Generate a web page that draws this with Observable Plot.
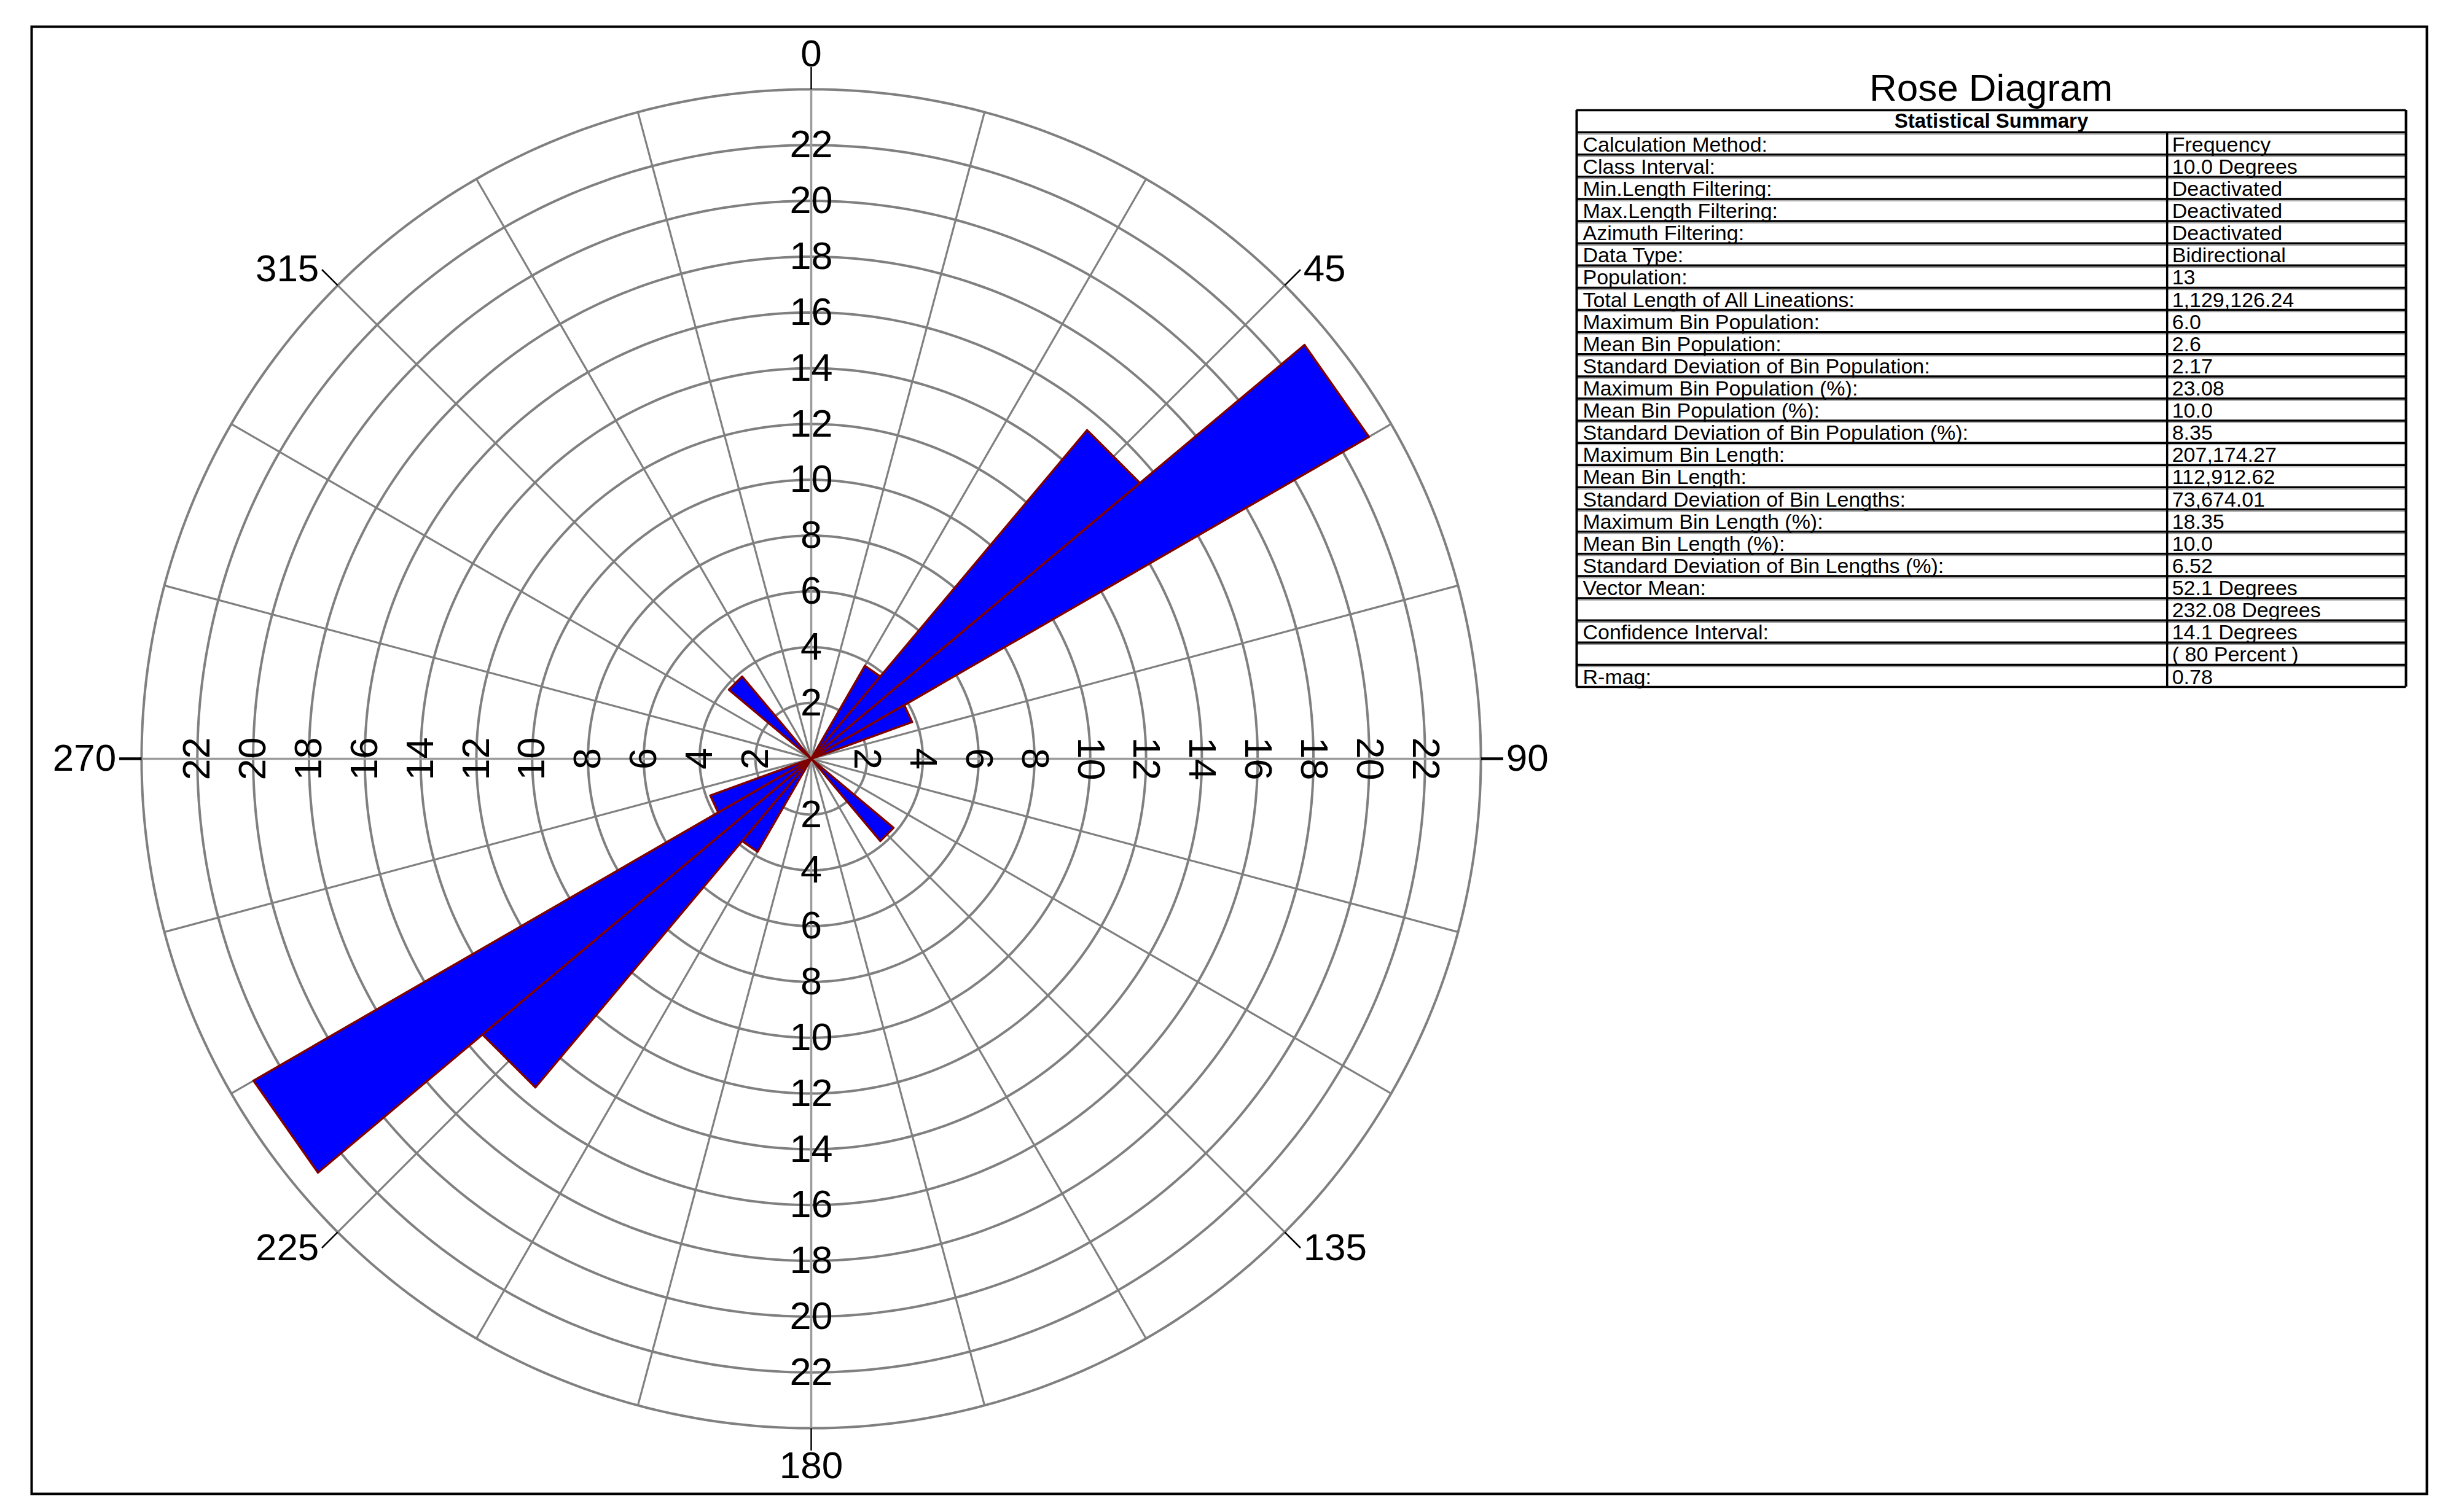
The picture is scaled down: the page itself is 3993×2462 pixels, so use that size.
<!DOCTYPE html>
<html>
<head>
<meta charset="utf-8">
<script src="https://cdn.jsdelivr.net/npm/d3@7"></script>
<script src="https://cdn.jsdelivr.net/npm/@observablehq/plot@0.6"></script>
<style>
html, body { margin: 0; padding: 0; background: #fff; }
#page { position: relative; width: 3993px; height: 2462px; background: #fff; font-family: "Liberation Sans", Arial, sans-serif; overflow: hidden; }
#page svg { position: absolute; }
#title { position: absolute; z-index: 5; left: 2566px; width: 1350px; top: 112px; text-align: center; font-size: 62px; line-height: 62px; color: #000; }
</style>
</head>
<body>
<div id="page"><div id="title">Rose Diagram</div></div>
<script>
// ---------- data ----------
const binStart = [30, 40, 50, 60, 130, 210, 220, 230, 240, 310];           // degrees (class start)
const binPercent = [3.85, 15.38, 23.08, 3.85, 3.85, 3.85, 15.38, 23.08, 3.85, 3.85]; // frequency %
const classInterval = 10;
const ringTicks = [2, 4, 6, 8, 10, 12, 14, 16, 18, 20, 22];
const outerRing = 24;
const spokeAngles = [0, 15, 30, 45, 60, 75, 90, 105, 120, 135, 150, 165, 180, 195, 210, 225, 240, 255, 270, 285, 300, 315, 330, 345];
const directionTicks = [0, 45, 90, 135, 180, 225, 270, 315];
const statLabels = [
  "Calculation Method:", "Class Interval:", "Min.Length Filtering:", "Max.Length Filtering:",
  "Azimuth Filtering:", "Data Type:", "Population:", "Total Length of All Lineations:",
  "Maximum Bin Population:", "Mean Bin Population:", "Standard Deviation of Bin Population:",
  "Maximum Bin Population (%):", "Mean Bin Population (%):", "Standard Deviation of Bin Population (%):",
  "Maximum Bin Length:", "Mean Bin Length:", "Standard Deviation of Bin Lengths:",
  "Maximum Bin Length (%):", "Mean Bin Length (%):", "Standard Deviation of Bin Lengths (%):",
  "Vector Mean:", "", "Confidence Interval:", "", "R-mag:"
];
const statValues = [
  "Frequency", "10.0 Degrees", "Deactivated", "Deactivated",
  "Deactivated", "Bidirectional", "13", "1,129,126.24",
  "6.0", "2.6", "2.17",
  "23.08", "10.0", "8.35",
  "207,174.27", "112,912.62", "73,674.01",
  "18.35", "10.0", "6.52",
  "52.1 Degrees", "232.08 Degrees", "14.1 Degrees", "( 80 Percent )", "0.78"
];
const tableHeader = "Statistical Summary";

// ---------- geometry helpers ----------
const rad = a => a * Math.PI / 180;
const px = (a, r) => r * Math.sin(rad(a));
const py = (a, r) => r * Math.cos(rad(a));

const wedges = binStart.flatMap((a0, i) => {
  const v = binPercent[i], a1 = a0 + classInterval;
  return [
    {bin: i, x: 0, y: 0},
    {bin: i, x: px(a0, v), y: py(a0, v)},
    {bin: i, x: px(a1, v), y: py(a1, v)}
  ];
});
const ringPts = [...ringTicks, outerRing].flatMap(r =>
  d3.range(0, 360, 1).map(a => ({r, x: px(a, r), y: py(a, r)})));
const axisAngles = [0, 90];
const spokes = spokeAngles.filter(a => a % 90 !== 0);

// ---------- layout ----------
const W = 3993, H = 2462;
const mL = 51, mT = 43, mR = 43, mB = 30;
const CX = 1320, CY = 1235, K = 45.42;   // centre (px) and px per percent unit
const labR = 24.82, tickR = 24.8;
const font = "'Liberation Sans', Arial, sans-serif";

const rose = Plot.plot({
  width: W, height: H,
  marginLeft: mL, marginTop: mT, marginRight: mR, marginBottom: mB,
  x: {domain: [(mL - CX) / K, (W - mR - CX) / K], axis: null},
  y: {domain: [-(H - mB - CY) / K, (CY - mT) / K], axis: null},
  style: {background: "white", fontFamily: font, color: "black", overflow: "visible"},
  marks: [
    Plot.line(ringPts, {x: "x", y: "y", z: "r", curve: "linear-closed", stroke: "#808080", strokeWidth: 4}),
    Plot.link(spokes, {x1: 0, y1: 0, x2: a => px(a, outerRing), y2: a => py(a, outerRing), stroke: "#808080", strokeWidth: 3.2}),
    Plot.link(axisAngles, {x1: a => px(a, outerRing), y1: a => py(a, outerRing), x2: a => px(a + 180, outerRing), y2: a => py(a + 180, outerRing), stroke: "#9a9a9a", strokeWidth: 3.5}),
    Plot.line(wedges, {x: "x", y: "y", z: "bin", curve: "linear-closed", fill: "#0000ff", stroke: "#800000", strokeWidth: 3.5, strokeLinejoin: "round"}),
    Plot.link(directionTicks, {x1: a => px(a, outerRing), y1: a => py(a, outerRing), x2: a => px(a, tickR), y2: a => py(a, tickR), stroke: "black", strokeWidth: a => (a === 90 || a === 270) ? 4.5 : 2.5}),
    // ring labels on the four half-axes
    Plot.text(ringTicks, {x: 0, y: d => d, text: d => String(d), fontSize: 63, lineAnchor: "middle"}),
    Plot.text(ringTicks, {x: 0, y: d => -d, text: d => String(d), fontSize: 63, lineAnchor: "middle"}),
    Plot.text(ringTicks, {x: d => d, y: 0, text: d => String(d), fontSize: 63, lineAnchor: "middle", rotate: 90}),
    Plot.text(ringTicks, {x: d => -d, y: 0, text: d => String(d), fontSize: 63, lineAnchor: "middle", rotate: -90}),
    // direction labels
    Plot.text(directionTicks.filter(a => a === 0), {x: a => px(a, labR), y: a => py(a, labR), text: a => String(a), fontSize: 62, textAnchor: "middle", lineAnchor: "bottom"}),
    Plot.text(directionTicks.filter(a => a === 180), {x: a => px(a, labR), y: a => py(a, labR), text: a => String(a), fontSize: 62, textAnchor: "middle", lineAnchor: "top"}),
    Plot.text(directionTicks.filter(a => a > 0 && a < 180), {x: a => px(a, labR), y: a => py(a, labR), text: a => String(a), fontSize: 62, textAnchor: "start", lineAnchor: "middle", dx: 4}),
    Plot.text(directionTicks.filter(a => a > 180), {x: a => px(a, labR), y: a => py(a, labR), text: a => String(a), fontSize: 62, textAnchor: "end", lineAnchor: "middle", dx: -4}),
    Plot.frame({stroke: "black", strokeWidth: 4})
  ]
});
rose.style.left = "0px"; rose.style.top = "0px"; rose.style.zIndex = "1";
document.getElementById("page").appendChild(rose);

// ---------- statistical summary table ----------
const nRows = statLabels.length + 1;
const colSplit = 0.712;
const table = Plot.plot({
  width: 1370, height: 957,
  marginLeft: 10, marginRight: 10, marginTop: 9, marginBottom: 9,
  x: {domain: [0, 1], axis: null},
  y: {domain: [0, nRows], reverse: true, axis: null},
  style: {background: "transparent", fontFamily: font, color: "black", overflow: "visible"},
  marks: [
    Plot.ruleY(d3.range(1, nRows), {x1: 0, x2: 1, stroke: "#999", strokeWidth: 1.5, dy: 3}),
    Plot.ruleY(d3.range(0, nRows + 1), {x1: 0, x2: 1, stroke: "black", strokeWidth: 3.5}),
    Plot.ruleX([0, 1], {y1: 0, y2: nRows, stroke: "black", strokeWidth: 4}),
    Plot.ruleX([colSplit], {y1: 1, y2: nRows, stroke: "black", strokeWidth: 3.5}),
    Plot.text([tableHeader], {x: 0.5, y: 1, dy: -8, text: d => d, fontSize: 33, fontWeight: "bold", textAnchor: "middle", lineAnchor: "bottom"}),
    Plot.text(statLabels, {x: 0, y: (d, i) => i + 2, dx: 10, dy: -5, text: d => d, fontSize: 34, textAnchor: "start", lineAnchor: "bottom"}),
    Plot.text(statValues, {x: colSplit, y: (d, i) => i + 2, dx: 8, dy: -5, text: d => d, fontSize: 34, textAnchor: "start", lineAnchor: "bottom"})
  ]
});
table.style.left = "2556px"; table.style.top = "170px"; table.style.zIndex = "2";
document.getElementById("page").appendChild(table);
</script>
</body>
</html>
